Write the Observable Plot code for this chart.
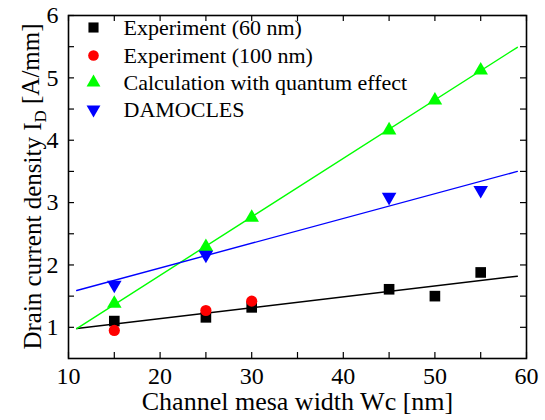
<!DOCTYPE html>
<html>
<head>
<meta charset="utf-8">
<script src="https://cdn.jsdelivr.net/npm/d3@7"></script>
<script src="https://cdn.jsdelivr.net/npm/@observablehq/plot@0.6"></script>
<style>
  html, body { margin: 0; padding: 0; background: #fff; }
  #chart svg { display: block; }
  #chart svg text { font-family: 'Liberation Serif', 'Times New Roman', serif !important; }
</style>
</head>
<body>
<div id="chart"></div>
<script>
// ---- data ----
const widths60 = [15, 25, 30, 45, 50, 55];
const exp60 = [1.10, 1.16, 1.32, 1.61, 1.50, 1.88];

const widths100 = [15, 25, 30];
const exp100 = [0.95, 1.27, 1.42];

const widthsCalc = [15, 25, 30, 45, 50, 55];
const calcQuantum = [1.38, 2.29, 2.76, 4.16, 4.64, 5.12];

const widthsDam = [15, 25, 45, 55];
const damocles = [1.68, 2.16, 3.09, 3.20];

// fitted straight lines (end points)
const fitX = [10.9, 59];
const fit60 = [0.98, 1.82];
const fitCalc = [0.98, 5.49];
const fitDam = [1.59, 3.50];

const xMajor = [10, 20, 30, 40, 50, 60];
const xMinor = [15, 25, 35, 45, 55];
const yMajor = [1, 2, 3, 4, 5, 6];
const yMinor = [1.5, 2.5, 3.5, 4.5, 5.5];

const legendLabels = ["Experiment (60 nm)", "Experiment (100 nm)", "Calculation with quantum effect", "DAMOCLES"];
const xLabel = "Channel mesa width Wc [nm]";

// ---- build ----
const FONT = "'Liberation Serif', 'Times New Roman', serif";
const W = 545, H = 420, mL = 68, mR = 19, mT = 15, mB = 62;
const frameH = H - mT - mB, frameW = W - mL - mR;
const TICK = 6;

const triangleDown = {
  draw(context, size) {
    const y = -Math.sqrt(size / (Math.sqrt(3) * 3));
    context.moveTo(0, -2 * y);
    context.lineTo(-Math.sqrt(3) * y, y);
    context.lineTo(Math.sqrt(3) * y, y);
    context.closePath();
  }
};

const pts = (xs, ys) => xs.map((x, i) => ({x, y: ys[i]}));

const series = [
  {data: pts(widths60, exp60), symbol: "square", color: "#000000", r: 6.0},
  {data: pts(widths100, exp100), symbol: "circle", color: "#ff0000", r: 5.6},
  {data: pts(widthsCalc, calcQuantum), symbol: "triangle", color: "#00ff00", r: 5.4},
  {data: pts(widthsDam, damocles), symbol: triangleDown, color: "#0000ff", r: 5.4}
];
const fits = [
  {data: pts(fitX, fit60), color: "#000000"},
  {data: pts(fitX, fitCalc), color: "#00ff00"},
  {data: pts(fitX, fitDam), color: "#0000ff"}
];

const legendRowsDy = [12, 40, 67, 94];

const marks = [
  ...fits.map(f => Plot.line(f.data, {x: "x", y: "y", stroke: f.color, strokeWidth: 1.4})),
  ...series.map(s => Plot.dot(s.data, {x: "x", y: "y", symbol: () => s.symbol, fill: s.color, stroke: "none", r: s.r})),
  Plot.ruleX([...xMajor, ...xMinor], {x: d => d, insetTop: frameH - TICK, stroke: "#000", strokeWidth: 1.2}),
  Plot.ruleX([...xMajor, ...xMinor], {x: d => d, insetBottom: frameH - TICK, stroke: "#000", strokeWidth: 1.2}),
  Plot.ruleY([...yMajor, ...yMinor], {y: d => d, insetRight: frameW - TICK, stroke: "#000", strokeWidth: 1.2}),
  Plot.ruleY([...yMajor, ...yMinor], {y: d => d, insetLeft: frameW - TICK, stroke: "#000", strokeWidth: 1.2}),
  Plot.frame({stroke: "#000", strokeWidth: 1.6}),
  Plot.axisX({ticks: xMajor, tickSize: 0, tickPadding: 8, fontSize: 24, fontFamily: FONT, tickFormat: d => String(d), label: null}),
  Plot.axisY({ticks: yMajor, tickSize: 0, tickPadding: 10, fontSize: 24, fontFamily: FONT, tickFormat: d => String(d), label: null}),
  Plot.text([xLabel], {text: d => d, frameAnchor: "bottom", dy: 43, lineAnchor: "middle", fontSize: 26, fontFamily: FONT, fill: "#000"}),
  ...series.map((s, i) => Plot.dot([0], {frameAnchor: "top-left", dx: 25, dy: legendRowsDy[i], symbol: () => s.symbol, fill: s.color, stroke: "none", r: s.r * 0.95})),
  ...legendLabels.map((lab, i) => Plot.text([lab], {text: d => d, frameAnchor: "top-left", dx: 55, dy: legendRowsDy[i], textAnchor: "start", lineAnchor: "middle", fontSize: 22, fontFamily: FONT, fill: "#000"}))
];

const chart = Plot.plot({
  width: W,
  height: H,
  marginLeft: mL,
  marginRight: mR,
  marginTop: mT,
  marginBottom: mB,
  x: {domain: [10, 60], axis: null},
  y: {domain: [0.5, 6], axis: null},
  style: {fontFamily: FONT, fontSize: "22px", color: "#000", background: "#fff"},
  marks
});

const svg = d3.select(chart);
const yt = svg.append("text")
  .attr("transform", `translate(41, ${mT + frameH / 2}) rotate(-90)`)
  .attr("text-anchor", "middle")
  .attr("font-family", FONT)
  .attr("font-size", 25)
  .attr("fill", "#000");
yt.append("tspan").text("Drain current density I");
yt.append("tspan").attr("font-size", 17).attr("dy", "0.3em").text("D");
yt.append("tspan").attr("dy", "-0.3em").text(" [A/mm]");

document.getElementById("chart").appendChild(chart);
</script>
</body>
</html>
